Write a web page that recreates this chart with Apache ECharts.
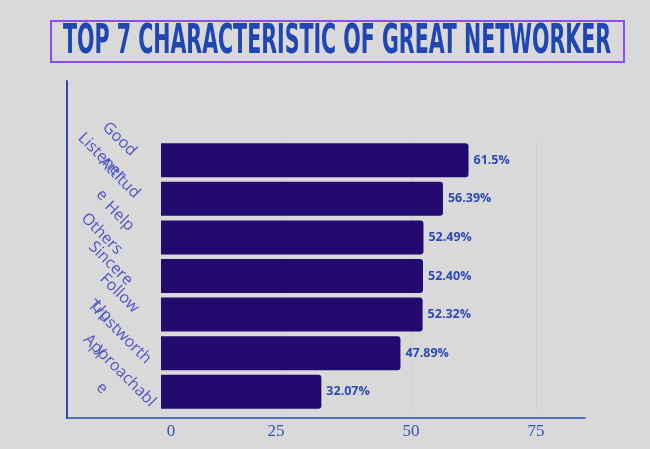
<!DOCTYPE html>
<html>
<head>
<meta charset="utf-8">
<script src="https://cdn.jsdelivr.net/npm/echarts@6/dist/echarts.min.js"></script>
<style>
  html, body { margin: 0; padding: 0; background: #d9d9d9; }
  #chart { width: 650px; height: 449px; }
</style>
</head>
<body>
<div id="chart"></div>
<script>
const titleText = "TOP 7 CHARACTERISTIC OF GREAT NETWORKER";
const categories = ["Good\nListener", "Attitud\ne", "Help\nOthers", "Sincere", "Follow\nUp", "Trustworth\ny", "Approachabl\ne"];
const values = [61.5, 56.39, 52.49, 52.40, 52.32, 47.89, 32.07];
const valueLabels = ["61.5%", "56.39%", "52.49%", "52.40%", "52.32%", "47.89%", "32.07%"];
const xTickLabels = ["0", "25", "50", "75"];

const chart = echarts.init(document.getElementById('chart'), null, { renderer: 'canvas' });

const cv = document.createElement('canvas').getContext('2d');
const titleFont = 'bold 40px "Liberation Sans Narrow", "DejaVu Sans Condensed", sans-serif';
cv.font = titleFont;
const tw = cv.measureText(titleText).width;
const titleScale = 548 / tw;

chart.setOption({
  backgroundColor: '#d9d9d9',
  animation: false,
  graphic: [
    {
      type: 'rect',
      shape: { x: 51, y: 21, width: 573, height: 41 },
      style: { fill: 'transparent', stroke: '#8c4cf2', lineWidth: 2 }
    },
    {
      type: 'text',
      x: 337, y: 43,
      scaleX: titleScale,
      style: {
        text: titleText,
        font: titleFont,
        fill: '#1f46b2',
        align: 'center',
        verticalAlign: 'middle'
      }
    }
  ],
  grid: [
    { left: 161, right: 65, top: 141, bottom: 38, outerBoundsMode: 'none', containLabel: false },
    { left: 67, right: 65, top: 81, bottom: 31, outerBoundsMode: 'none', containLabel: false }
  ],
  xAxis: [
    {
      type: 'value', gridIndex: 0, min: 0, max: 84.8, interval: 25,
      axisLine: { show: false },
      axisTick: { show: false },
      splitLine: { show: true, showMinLine: false, showMaxLine: false, lineStyle: { color: '#cfcfd4', width: 1 } },
      axisLabel: {
        margin: 12,
        showMaxLabel: false,
        formatter: function (v) {
          const s = String(v);
          if (xTickLabels.indexOf(s) < 0) return '';
          return '{' + (s === '0' ? 'a' : s === '25' ? 'b' : 'c') + '|' + s + '}';
        },
        rich: {
          a: { fontFamily: 'Liberation Serif, serif', fontSize: 17, color: '#3453b3', padding: [0, 0, 0, 20] },
          b: { fontFamily: 'Liberation Serif, serif', fontSize: 17, color: '#3453b3', padding: [0, 20, 0, 0] },
          c: { fontFamily: 'Liberation Serif, serif', fontSize: 17, color: '#3453b3' }
        }
      }
    },
    {
      type: 'value', gridIndex: 1, min: 0, max: 1,
      axisLine: { show: true, lineStyle: { color: '#2a4cb8', width: 1.5 } },
      axisTick: { show: false }, axisLabel: { show: false }, splitLine: { show: false }
    }
  ],
  yAxis: [
    {
      type: 'category', gridIndex: 0, inverse: true, data: categories,
      axisLine: { show: false }, axisTick: { show: false },
      axisLabel: {
        interval: 0,
        rotate: -45,
        margin: 38,
        align: 'center',
        verticalAlign: 'middle',
        padding: [0, 35, 0, 0],
        fontFamily: 'Open Sans, sans-serif',
        fontSize: 16,
        lineHeight: 25,
        color: '#4f55c4'
      }
    },
    {
      type: 'value', gridIndex: 1, min: 0, max: 1,
      axisLine: { show: true, lineStyle: { color: '#2a4cb8', width: 2 } },
      axisTick: { show: false }, axisLabel: { show: false }, splitLine: { show: false }
    }
  ],
  series: [
    {
      type: 'bar',
      xAxisIndex: 0, yAxisIndex: 0,
      data: values,
      barWidth: 34,
      itemStyle: { color: '#220a6e', borderRadius: [0, 3, 3, 0] },
      label: {
        show: true,
        position: 'right',
        distance: 5,
        fontFamily: 'Open Sans, sans-serif',
        fontWeight: 'bold',
        fontSize: 12.5,
        color: '#2d49b3',
        formatter: function (p) { return valueLabels[p.dataIndex]; }
      }
    }
  ]
});
</script>
</body>
</html>
